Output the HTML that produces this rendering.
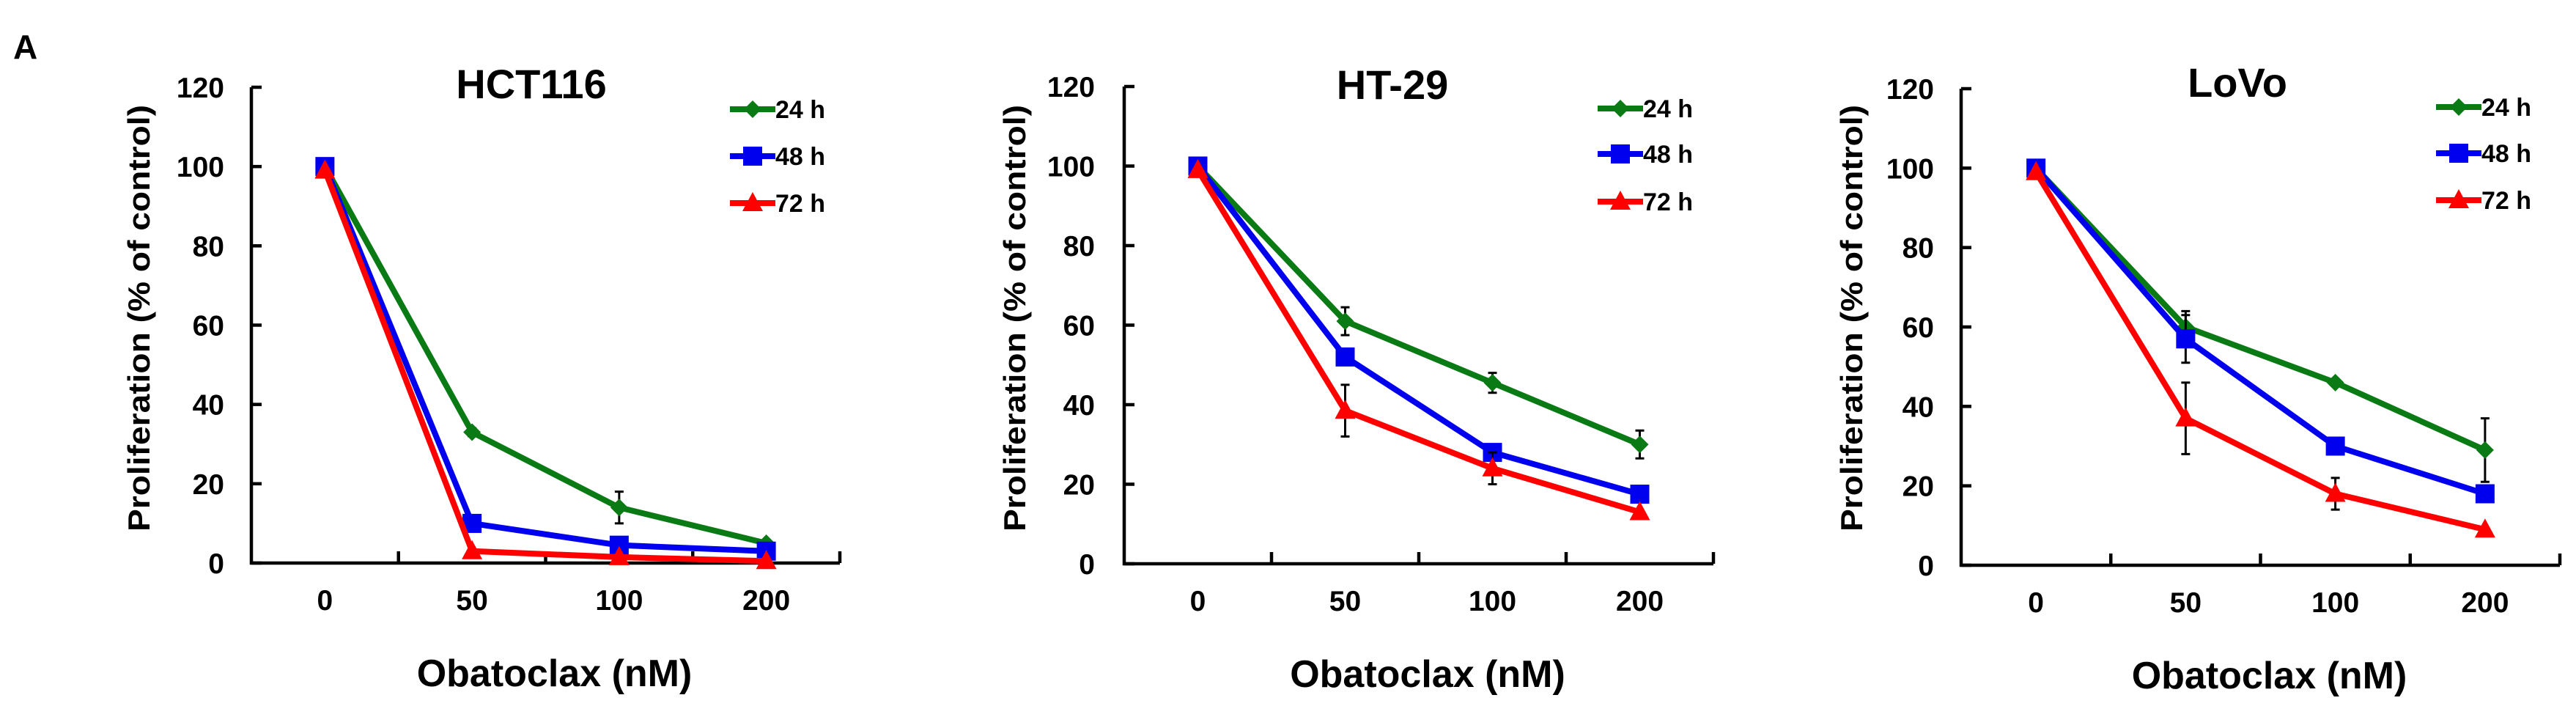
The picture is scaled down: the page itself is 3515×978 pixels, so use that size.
<!DOCTYPE html>
<html><head><meta charset="utf-8"><style>
html,body{margin:0;padding:0;background:#fff;}
svg{display:block;font-family:"Liberation Sans",Arial,sans-serif;font-weight:bold;}
</style></head><body>
<svg id="fig" width="3515" height="978" viewBox="0 0 3515 978" xmlns="http://www.w3.org/2000/svg">
<rect width="3515" height="978" fill="#fff"/>
<text x="18" y="80" font-size="46" fill="#000">A</text>
</svg>
<script>
const categories = ["0","50","100","200"];
const yTicks = [0,20,40,60,80,100,120];
const seriesNames = ["24 h","48 h","72 h"];
const seriesColors = ["#0a7a14","#0000ee","#ff0000"];
const hct24 = [100,33,14,5];
const hct48 = [100,10,4.5,3];
const hct72 = [99,3,1.5,0.5];
const hctErr24 = [0,1,4,0.5];
const ht24 = [100,61,45.5,30];
const ht48 = [100,52,28,17.5];
const ht72 = [99,38.5,24,13];
const htErr24 = [0,3.5,2.5,3.5];
const htErr72 = [0,6.5,4,0];
const lo24 = [100,60,46,29];
const lo48 = [100,57,30,18];
const lo72 = [99,37,18,9];
const loErr24 = [0,4,0,8];
const loErr48 = [0,6,0,0];
const loErr72 = [0,9,4,0];

const panels = [
 {name:"hct116",title:"HCT116",x0:343,x1:1146,yTop:119,yZero:768,titleX:725,titleY:134,legX:996,legY:[149,213,277],tickR:306,ylabX:190,
  series:[hct24,hct48,hct72],errs:[hctErr24,null,null]},
 {name:"ht29",title:"HT-29",x0:1534,x1:2338,yTop:118,yZero:769,titleX:1900,titleY:135,legX:2180,legY:[148,210,275],tickR:1494,ylabX:1385,
  series:[ht24,ht48,ht72],errs:[htErr24,null,htErr72]},
 {name:"lovo",title:"LoVo",x0:2676,x1:3493,yTop:121,yZero:771,titleX:3053,titleY:132,legX:3324,legY:[146,209,273],tickR:2639,ylabX:2527,
  series:[lo24,lo48,lo72],errs:[loErr24,loErr48,loErr72]}
];
const NS="http://www.w3.org/2000/svg";
const svg=document.getElementById('fig');
function mk(tag,attrs,parent){const e=document.createElementNS(NS,tag);for(const k in attrs)e.setAttribute(k,attrs[k]);(parent||svg).appendChild(e);return e;}
function marker(g,i,cx,cy,color){
 let m;
 if(i===0){m=mk('polygon',{points:`${cx},${cy-12} ${cx+12},${cy} ${cx},${cy+12} ${cx-12},${cy}`,fill:color},g);}
 else if(i===1){m=mk('rect',{x:cx-13,y:cy-13,width:26,height:26,fill:color},g);}
 else {m=mk('polygon',{points:`${cx},${cy-15} ${cx+14},${cy+11} ${cx-14},${cy+11}`,fill:color},g);}
 return m;
}
panels.forEach(p=>{
 const g=mk('g',{});
 
 
 const band=(p.x1-p.x0)/categories.length;
 const xS=i=>p.x0+band*(i+0.5);
 const yS=v=>p.yZero-(v-0)/(120)*(p.yZero-p.yTop);
 const ax=mk('path',{d:`M${p.x0},${p.yTop} V${p.yZero} H${p.x1}`,stroke:'#000','stroke-width':4.5,fill:'none'},g);
 
 
 yTicks.forEach(t=>{
  const y=yS(t);
  mk('line',{x1:p.x0,x2:p.x0+14,y1:y,y2:y,stroke:'#000','stroke-width':4.5},g);
  const tl=mk('text',{x:p.tickR,y:y+14,'font-size':39,'text-anchor':'end',fill:'#000'},g);
  tl.textContent=t;
  
  
 });
 for(let i=1;i<=categories.length;i++){
  const x=p.x0+band*i;
  mk('line',{x1:x,x2:x,y1:p.yZero,y2:p.yZero-16,stroke:'#000','stroke-width':4.5},g);
 }
 categories.forEach((c,i)=>{
  const t=mk('text',{x:xS(i),y:p.yZero+64,'font-size':39,'text-anchor':'middle',fill:'#000'},g);
  t.textContent=c;
  
  
 });
 const xl=mk('text',{x:(p.x0+p.x1)/2+12,y:p.yZero+168,'font-size':52,'text-anchor':'middle',fill:'#000'},g);
 xl.textContent="Obatoclax (nM)";
 
 
 const yl=mk('text',{x:0,y:0,'font-size':42,'text-anchor':'middle',fill:'#000',textLength:582,lengthAdjust:'spacingAndGlyphs',transform:`translate(${p.ylabX+14},434) rotate(-90)`},g);
 yl.textContent="Proliferation (% of control)";
 
 
 const tt=mk('text',{x:p.titleX,y:p.titleY,'font-size':56,'text-anchor':'middle',fill:'#000'},g);
 tt.textContent=p.title;
 
 
 p.series.forEach((vals,si)=>{
  const color=seriesColors[si];
  const sg=mk('g',{},g);
  
  
  const err=p.errs[si];
  if(err){err.forEach((e,i)=>{ if(e>0){
   const x=xS(i);
   mk('path',{d:`M${x},${yS(vals[i]-e)} V${yS(vals[i]+e)} M${x-6},${yS(vals[i]-e)} h12 M${x-6},${yS(vals[i]+e)} h12`,stroke:'#000','stroke-width':3,fill:'none'},sg);
  }});}
  const pts=vals.map((v,i)=>`${xS(i)},${yS(v)}`).join(' ');
  const ln=mk('polyline',{points:pts,fill:'none',stroke:color,'stroke-width':8,'stroke-linejoin':'round'},sg);
  
  
  vals.forEach((v,i)=>{
   const m=marker(sg,si,xS(i),yS(v),color);
   
   
  });
 });
 seriesNames.forEach((n,si)=>{
  const y=p.legY[si];
  const lg=mk('g',{},g);
  
  
  mk('line',{x1:p.legX,x2:p.legX+62,y1:y,y2:y,stroke:seriesColors[si],'stroke-width':8},lg);
  marker(lg,si,p.legX+31,y,seriesColors[si]);
  const t=mk('text',{x:p.legX+62,y:y+12,'font-size':34,fill:'#000'},lg);
  t.textContent=n;
 });
});
</script>
</body></html>
